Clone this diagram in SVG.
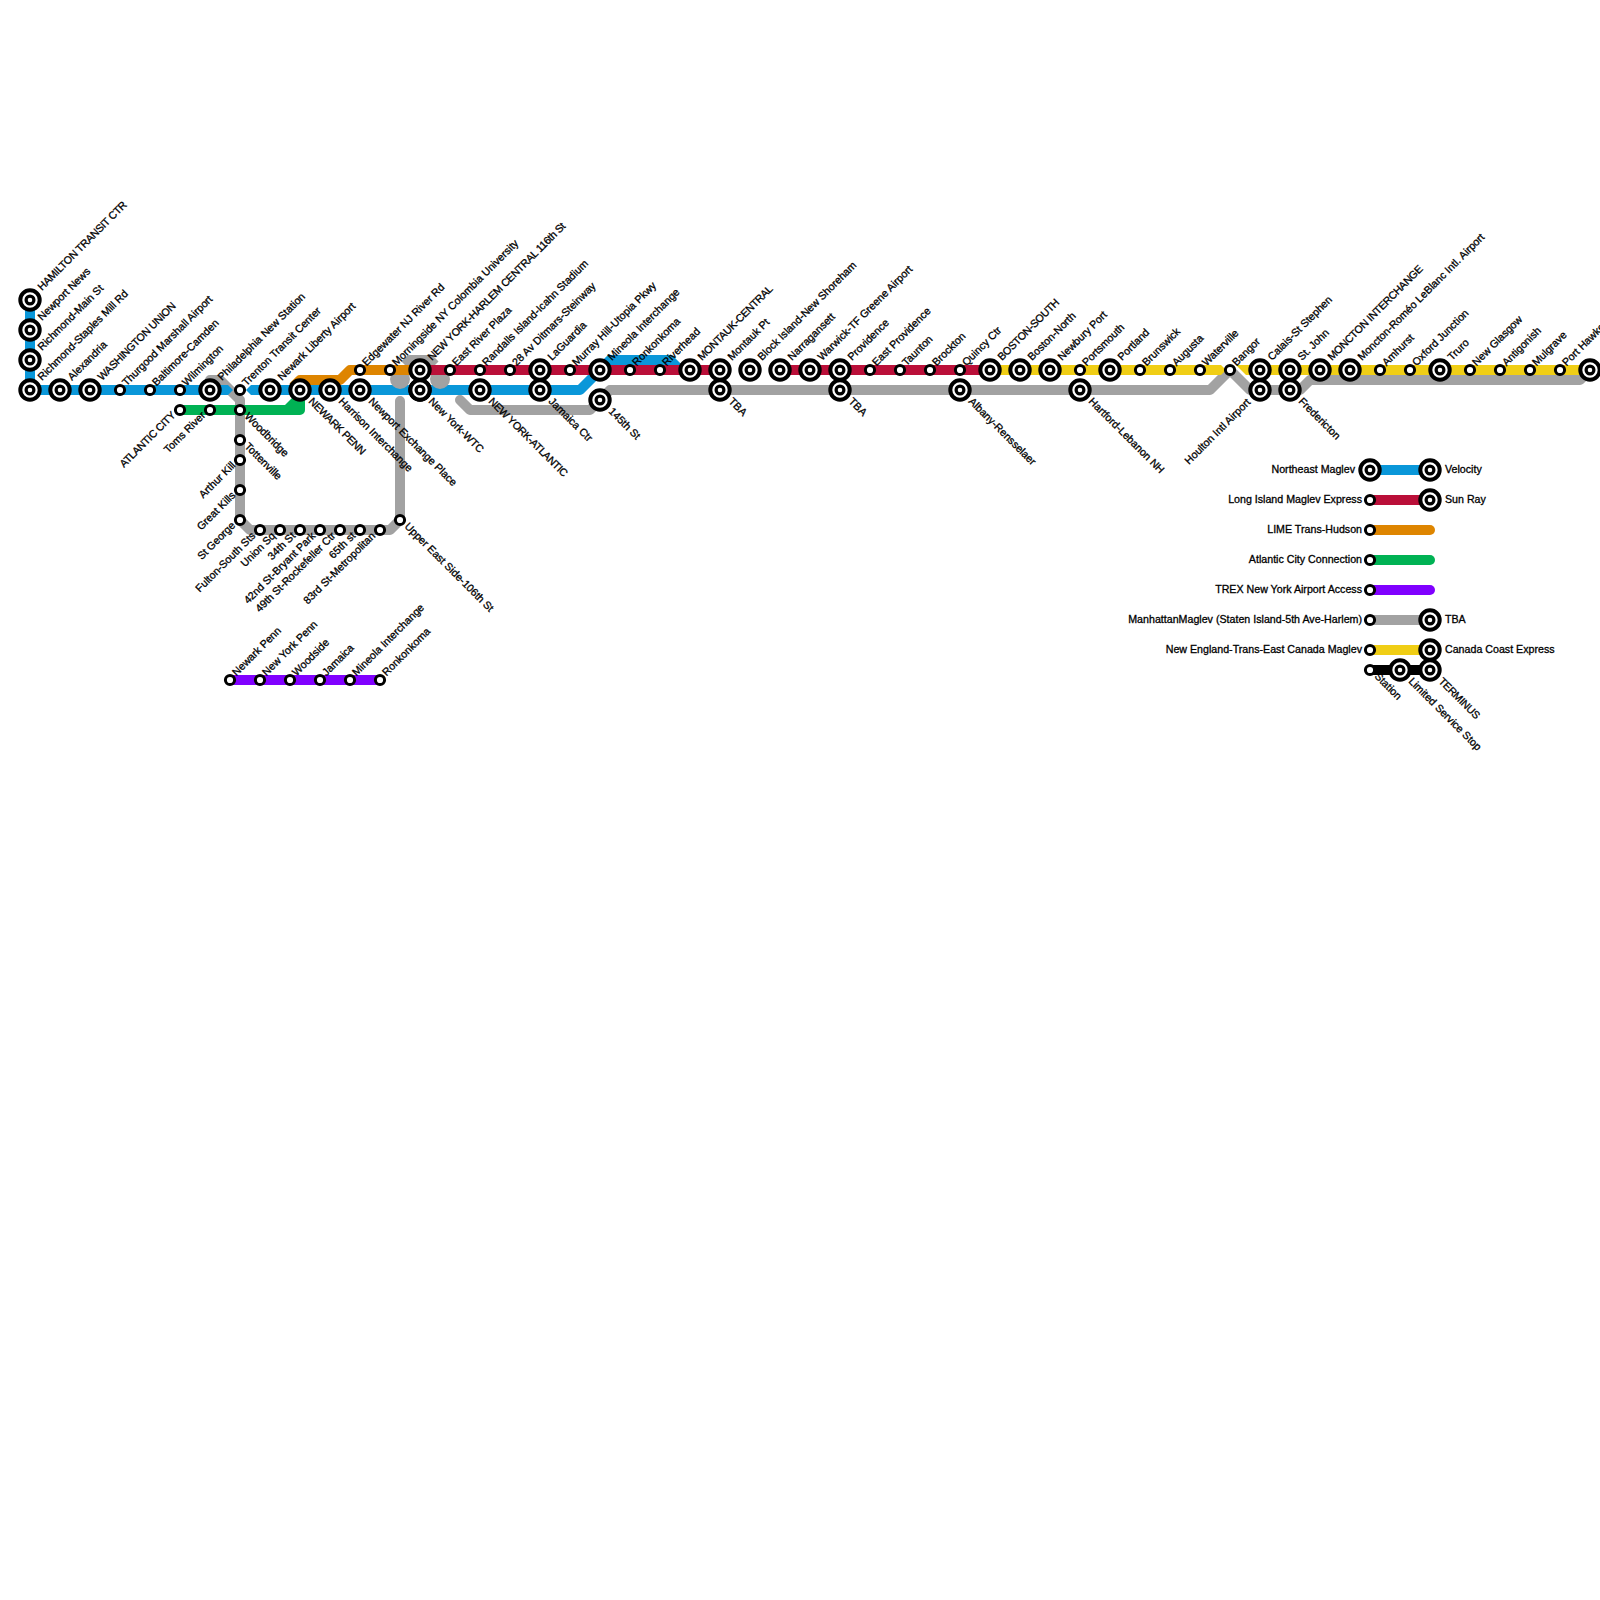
<svg xmlns="http://www.w3.org/2000/svg" width="1600" height="1600" viewBox="0 0 1600 1600">
<style>
.l{fill:none;stroke-width:10;stroke-linejoin:round;stroke-linecap:butt}
.r{stroke-linecap:round}
.t{font-family:"Liberation Sans",Arial,sans-serif;font-size:10.67px;fill:#000;stroke:#000;stroke-width:.3}
.c{letter-spacing:-.33px}
.e{text-anchor:end}
.bo{fill:#fff;stroke:#000;stroke-width:4}
.bi{fill:#fff;stroke:#000;stroke-width:3.2}
.so{fill:#fff;stroke:#000;stroke-width:3}
</style>
<defs>
<g id="big"><circle r="9.7" class="bo"/><circle r="3.9" class="bi"/></g>
<circle id="small" r="4.6" class="so"/>
</defs>
<rect width="1600" height="1600" fill="#fff"/>
<g id="connectors">
<path class="l r" stroke="#a2a2a2" d="M210 380H220L240 400V520L250 530H390L400 520V401"/>
<path class="l" stroke="#a2a2a2" d="M405 365L410 360H430L435 365"/>
<path class="l r" stroke="#a2a2a2" d="M460 400L470 410H590L610 390H1210L1230 370L1250 390H1300L1310 380H1580L1590 370"/>
<path fill="#0a97d9" d="M25 300H35V385H228L233 390L228 395H25Z"/>
<path fill="#0a97d9" d="M251 385L246 390L251 395Z"/>
<path class="l" stroke="#0a97d9" d="M251 390H580L600 370L610 360H670L680 370H690"/>
<circle cx="400" cy="379" r="10" fill="#a2a2a2"/>
<circle cx="440" cy="379" r="10" fill="#a2a2a2"/>
<path class="l" stroke="#de8500" d="M293 387L300 380H340L350 370H420"/>
<path class="l" stroke="#ba0f39" d="M420 370H720M780 370H990"/>
<path fill="#f0ce15" d="M990 365H1221L1226 370L1221 375H990Z"/>
<path fill="#f0ce15" d="M1236 365H1590V375H1246Z"/>
<path class="l" stroke="#00b254" d="M180 410H300V395"/>
<path fill="#00b254" d="M284 406L295 395H302V406Z"/>
<path class="l" stroke="#8000ff" d="M230 680H380"/>
<path class="l" stroke="#0a97d9" d="M1370 470H1430"/>
<path class="l" stroke="#ba0f39" d="M1370 500H1430"/>
<path class="l r" stroke="#de8500" d="M1370 530H1430"/>
<path class="l r" stroke="#00b254" d="M1370 560H1430"/>
<path class="l r" stroke="#8000ff" d="M1370 590H1430"/>
<path class="l" stroke="#a2a2a2" d="M1370 620H1430"/>
<path class="l" stroke="#f0ce15" d="M1370 650H1430"/>
<path class="l" stroke="#000" d="M1370 670H1430"/>
</g>
<g id="nodes">
<g id="n1"><use href="#big" x="30" y="300"/><text class="t c" transform="translate(42 291) rotate(-45)">HAMILTON TRANSIT CTR</text></g>
<g id="n2"><use href="#big" x="30" y="330"/><text class="t" transform="translate(42 321) rotate(-45)">Newport News</text></g>
<g id="n3"><use href="#big" x="30" y="360"/><text class="t" transform="translate(42 351) rotate(-45)">Richmond-Main St</text></g>
<g id="n4"><use href="#big" x="30" y="390"/><text class="t" transform="translate(42 381) rotate(-45)">Richmond-Staples Mill Rd</text></g>
<g id="n5"><use href="#big" x="60" y="390"/><text class="t" transform="translate(72 381) rotate(-45)">Alexandria</text></g>
<g id="n6"><use href="#big" x="90" y="390"/><text class="t c" transform="translate(102 381) rotate(-45)">WASHINGTON UNION</text></g>
<g id="n7"><use href="#small" x="120" y="390"/><text class="t" transform="translate(126.5 386.5) rotate(-45)">Thurgood Marshall Airport</text></g>
<g id="n8"><use href="#small" x="150" y="390"/><text class="t" transform="translate(156.5 386.5) rotate(-45)">Baltimore-Camden</text></g>
<g id="n9"><use href="#small" x="180" y="390"/><text class="t" transform="translate(186.5 386.5) rotate(-45)">Wilmington</text></g>
<g id="n10"><use href="#big" x="210" y="390"/><text class="t" transform="translate(222 381) rotate(-45)">Philadelphia New Station</text></g>
<g id="n11"><use href="#small" x="240" y="390"/><text class="t" transform="translate(246.5 386.5) rotate(-45)">Trenton Transit Center</text></g>
<g id="n12"><use href="#big" x="270" y="390"/><text class="t" transform="translate(282 381) rotate(-45)">Newark Liberty Airport</text></g>
<g id="n13"><use href="#big" x="300" y="390"/><text class="t c" transform="translate(308 402) rotate(45)">NEWARK PENN</text></g>
<g id="n14"><use href="#big" x="330" y="390"/><text class="t" transform="translate(338 402) rotate(45)">Harrison Interchange</text></g>
<g id="n15"><use href="#big" x="360" y="390"/><text class="t" transform="translate(368 402) rotate(45)">Newport Exchange Place</text></g>
<g id="n16"><use href="#big" x="420" y="390"/><text class="t" transform="translate(428 402) rotate(45)">New York-WTC</text></g>
<g id="n17"><use href="#big" x="480" y="390"/><text class="t c" transform="translate(488 402) rotate(45)">NEW YORK-ATLANTIC</text></g>
<g id="n18"><use href="#big" x="540" y="390"/><text class="t" transform="translate(548 402) rotate(45)">Jamaica Ctr</text></g>
<g id="n19"><use href="#big" x="600" y="400"/><text class="t" transform="translate(608 412) rotate(45)">145th St</text></g>
<g id="n20"><use href="#big" x="720" y="390"/><text class="t" transform="translate(728 402) rotate(45)">TBA</text></g>
<g id="n21"><use href="#big" x="840" y="390"/><text class="t" transform="translate(848 402) rotate(45)">TBA</text></g>
<g id="n22"><use href="#big" x="960" y="390"/><text class="t" transform="translate(968 402) rotate(45)">Albany-Rensselaer</text></g>
<g id="n23"><use href="#big" x="1080" y="390"/><text class="t" transform="translate(1088 402) rotate(45)">Hartford-Lebanon NH</text></g>
<g id="n24"><use href="#big" x="1260" y="390"/><text class="t e" transform="translate(1251 403) rotate(-45)">Houlton Intl Airport</text></g>
<g id="n25"><use href="#big" x="1290" y="390"/><text class="t" transform="translate(1298 402) rotate(45)">Fredericton</text></g>
<g id="n26"><use href="#small" x="180" y="410"/><text class="t e c" transform="translate(176 416) rotate(-45)">ATLANTIC CITY</text></g>
<g id="n27"><use href="#small" x="210" y="410"/><text class="t e" transform="translate(206 416) rotate(-45)">Toms River</text></g>
<g id="n28"><use href="#small" x="240" y="410"/><text class="t" transform="translate(244 417) rotate(45)">Woodbridge</text></g>
<g id="n29"><use href="#small" x="240" y="440"/><text class="t" transform="translate(244 447) rotate(45)">Tottenville</text></g>
<g id="n30"><use href="#small" x="240" y="460"/><text class="t e" transform="translate(236 466) rotate(-45)">Arthur Kill</text></g>
<g id="n31"><use href="#small" x="240" y="490"/><text class="t e" transform="translate(236 496) rotate(-45)">Great Kills</text></g>
<g id="n32"><use href="#small" x="240" y="520"/><text class="t e" transform="translate(236 526) rotate(-45)">St George</text></g>
<g id="n33"><use href="#small" x="260" y="530"/><text class="t e" transform="translate(256 536.5) rotate(-45)">Fulton-South Sts</text></g>
<g id="n34"><use href="#small" x="280" y="530"/><text class="t e" transform="translate(276 536.5) rotate(-45)">Union Sq</text></g>
<g id="n35"><use href="#small" x="300" y="530"/><text class="t e" transform="translate(296 536.5) rotate(-45)">34th St</text></g>
<g id="n36"><use href="#small" x="320" y="530"/><text class="t e" transform="translate(316 536.5) rotate(-45)">42nd St-Bryant Park</text></g>
<g id="n37"><use href="#small" x="340" y="530"/><text class="t e" transform="translate(336 536.5) rotate(-45)">49th St-Rockefeller Ctr</text></g>
<g id="n38"><use href="#small" x="360" y="530"/><text class="t e" transform="translate(356 536.5) rotate(-45)">65th st</text></g>
<g id="n39"><use href="#small" x="380" y="530"/><text class="t e" transform="translate(376 536.5) rotate(-45)">83rd St-Metropolitan</text></g>
<g id="n40"><use href="#small" x="400" y="520"/><text class="t" transform="translate(404 527) rotate(45)">Upper East Side-106th St</text></g>
<g id="n41"><use href="#small" x="360" y="370"/><text class="t" transform="translate(366.5 366.5) rotate(-45)">Edgewater NJ River Rd</text></g>
<g id="n42"><use href="#small" x="390" y="370"/><text class="t" transform="translate(396.5 366.5) rotate(-45)">Morningside NY Colombia University</text></g>
<g id="n43"><use href="#big" x="420" y="370"/><text class="t c" transform="translate(432 361) rotate(-45)">NEW YORK-HARLEM CENTRAL 116th St</text></g>
<g id="n44"><use href="#big" x="420" y="390"/></g>
<g id="n45"><use href="#small" x="450" y="370"/><text class="t" transform="translate(456.5 366.5) rotate(-45)">East River Plaza</text></g>
<g id="n46"><use href="#small" x="480" y="370"/><text class="t" transform="translate(486.5 366.5) rotate(-45)">Randalls Island-Icahn Stadium</text></g>
<g id="n47"><use href="#small" x="510" y="370"/><text class="t" transform="translate(516.5 366.5) rotate(-45)">28 Av Ditmars-Steinway</text></g>
<g id="n48"><use href="#big" x="540" y="370"/><text class="t" transform="translate(552 361) rotate(-45)">LaGuardia</text></g>
<g id="n49"><use href="#small" x="570" y="370"/><text class="t" transform="translate(576.5 366.5) rotate(-45)">Murray Hill-Utopia Pkwy</text></g>
<g id="n50"><use href="#big" x="600" y="370"/><text class="t" transform="translate(612 361) rotate(-45)">Mineola Interchange</text></g>
<g id="n51"><use href="#small" x="630" y="370"/><text class="t" transform="translate(636.5 366.5) rotate(-45)">Ronkonkoma</text></g>
<g id="n52"><use href="#small" x="660" y="370"/><text class="t" transform="translate(666.5 366.5) rotate(-45)">Riverhead</text></g>
<g id="n53"><use href="#big" x="690" y="370"/><text class="t c" transform="translate(702 361) rotate(-45)">MONTAUK-CENTRAL</text></g>
<g id="n54"><use href="#big" x="720" y="370"/><text class="t" transform="translate(732 361) rotate(-45)">Montauk Pt</text></g>
<g id="n55"><use href="#big" x="750" y="370"/><text class="t" transform="translate(762 361) rotate(-45)">Block Island-New Shoreham</text></g>
<g id="n56"><use href="#big" x="780" y="370"/><text class="t" transform="translate(792 361) rotate(-45)">Narragansett</text></g>
<g id="n57"><use href="#big" x="810" y="370"/><text class="t" transform="translate(822 361) rotate(-45)">Warwick-TF Greene Airport</text></g>
<g id="n58"><use href="#big" x="840" y="370"/><text class="t" transform="translate(852 361) rotate(-45)">Providence</text></g>
<g id="n59"><use href="#small" x="870" y="370"/><text class="t" transform="translate(876.5 366.5) rotate(-45)">East Providence</text></g>
<g id="n60"><use href="#small" x="900" y="370"/><text class="t" transform="translate(906.5 366.5) rotate(-45)">Taunton</text></g>
<g id="n61"><use href="#small" x="930" y="370"/><text class="t" transform="translate(936.5 366.5) rotate(-45)">Brockton</text></g>
<g id="n62"><use href="#small" x="960" y="370"/><text class="t" transform="translate(966.5 366.5) rotate(-45)">Quincy Ctr</text></g>
<g id="n63"><use href="#big" x="990" y="370"/><text class="t c" transform="translate(1002 361) rotate(-45)">BOSTON-SOUTH</text></g>
<g id="n64"><use href="#big" x="1020" y="370"/><text class="t" transform="translate(1032 361) rotate(-45)">Boston-North</text></g>
<g id="n65"><use href="#big" x="1050" y="370"/><text class="t" transform="translate(1062 361) rotate(-45)">Newbury Port</text></g>
<g id="n66"><use href="#small" x="1080" y="370"/><text class="t" transform="translate(1086.5 366.5) rotate(-45)">Portsmouth</text></g>
<g id="n67"><use href="#big" x="1110" y="370"/><text class="t" transform="translate(1122 361) rotate(-45)">Portland</text></g>
<g id="n68"><use href="#small" x="1140" y="370"/><text class="t" transform="translate(1146.5 366.5) rotate(-45)">Brunswick</text></g>
<g id="n69"><use href="#small" x="1170" y="370"/><text class="t" transform="translate(1176.5 366.5) rotate(-45)">Augusta</text></g>
<g id="n70"><use href="#small" x="1200" y="370"/><text class="t" transform="translate(1206.5 366.5) rotate(-45)">Waterville</text></g>
<g id="n71"><use href="#small" x="1230" y="370"/><text class="t" transform="translate(1236.5 366.5) rotate(-45)">Bangor</text></g>
<g id="n72"><use href="#big" x="1260" y="370"/><text class="t" transform="translate(1272 361) rotate(-45)">Calais-St Stephen</text></g>
<g id="n73"><use href="#big" x="1290" y="370"/><text class="t" transform="translate(1302 361) rotate(-45)">St. John</text></g>
<g id="n74"><use href="#big" x="1320" y="370"/><text class="t c" transform="translate(1332 361) rotate(-45)">MONCTON INTERCHANGE</text></g>
<g id="n75"><use href="#big" x="1350" y="370"/><text class="t" transform="translate(1362 361) rotate(-45)">Moncton-Roméo LeBlanc Intl. Airport</text></g>
<g id="n76"><use href="#small" x="1380" y="370"/><text class="t" transform="translate(1386.5 366.5) rotate(-45)">Amhurst</text></g>
<g id="n77"><use href="#small" x="1410" y="370"/><text class="t" transform="translate(1416.5 366.5) rotate(-45)">Oxford Junction</text></g>
<g id="n78"><use href="#big" x="1440" y="370"/><text class="t" transform="translate(1452 361) rotate(-45)">Truro</text></g>
<g id="n79"><use href="#small" x="1470" y="370"/><text class="t" transform="translate(1476.5 366.5) rotate(-45)">New Glasgow</text></g>
<g id="n80"><use href="#small" x="1500" y="370"/><text class="t" transform="translate(1506.5 366.5) rotate(-45)">Antigonish</text></g>
<g id="n81"><use href="#small" x="1530" y="370"/><text class="t" transform="translate(1536.5 366.5) rotate(-45)">Mulgrave</text></g>
<g id="n82"><use href="#small" x="1560" y="370"/><text class="t" transform="translate(1566.5 366.5) rotate(-45)">Port Hawkesbury</text></g>
<g id="n83"><use href="#big" x="1590" y="370"/></g>
<g id="n84"><use href="#small" x="230" y="680"/><text class="t" transform="translate(236.5 676.5) rotate(-45)">Newark Penn</text></g>
<g id="n85"><use href="#small" x="260" y="680"/><text class="t" transform="translate(266.5 676.5) rotate(-45)">New York Penn</text></g>
<g id="n86"><use href="#small" x="290" y="680"/><text class="t" transform="translate(296.5 676.5) rotate(-45)">Woodside</text></g>
<g id="n87"><use href="#small" x="320" y="680"/><text class="t" transform="translate(326.5 676.5) rotate(-45)">Jamaica</text></g>
<g id="n88"><use href="#small" x="350" y="680"/><text class="t" transform="translate(356.5 676.5) rotate(-45)">Mineola Interchange</text></g>
<g id="n89"><use href="#small" x="380" y="680"/><text class="t" transform="translate(386.5 676.5) rotate(-45)">Ronkonkoma</text></g>
<g id="legend-1"><use href="#big" x="1370" y="470"/><text class="t e" x="1355" y="473">Northeast Maglev</text><use href="#big" x="1430" y="470"/><text class="t" x="1445" y="473">Velocity</text></g>
<g id="legend-2"><use href="#small" x="1370" y="500"/><text class="t e" x="1362" y="503">Long Island Maglev Express</text><use href="#big" x="1430" y="500"/><text class="t" x="1445" y="503">Sun Ray</text></g>
<g id="legend-3"><use href="#small" x="1370" y="530"/><text class="t e" x="1362" y="533">LIME Trans-Hudson</text></g>
<g id="legend-4"><use href="#small" x="1370" y="560"/><text class="t e" x="1362" y="563">Atlantic City Connection</text></g>
<g id="legend-5"><use href="#small" x="1370" y="590"/><text class="t e" x="1362" y="593">TREX New York Airport Access</text></g>
<g id="legend-6"><use href="#small" x="1370" y="620"/><text class="t e" x="1362" y="623">ManhattanMaglev (Staten Island-5th Ave-Harlem)</text><use href="#big" x="1430" y="620"/><text class="t" x="1445" y="623">TBA</text></g>
<g id="legend-7"><use href="#small" x="1370" y="650"/><text class="t e" x="1362" y="653">New England-Trans-East Canada Maglev</text><use href="#big" x="1430" y="650"/><text class="t" x="1445" y="653">Canada Coast Express</text></g>
<g id="legend-8"><use href="#small" x="1370" y="670"/><text class="t" transform="translate(1374 677) rotate(45)">Station</text><use href="#big" x="1400" y="670"/><text class="t" transform="translate(1408 682) rotate(45)">Limited Service Stop</text><use href="#big" x="1430" y="670"/><text class="t c" transform="translate(1438 682) rotate(45)">TERMINUS</text></g>
</g>
</svg>
